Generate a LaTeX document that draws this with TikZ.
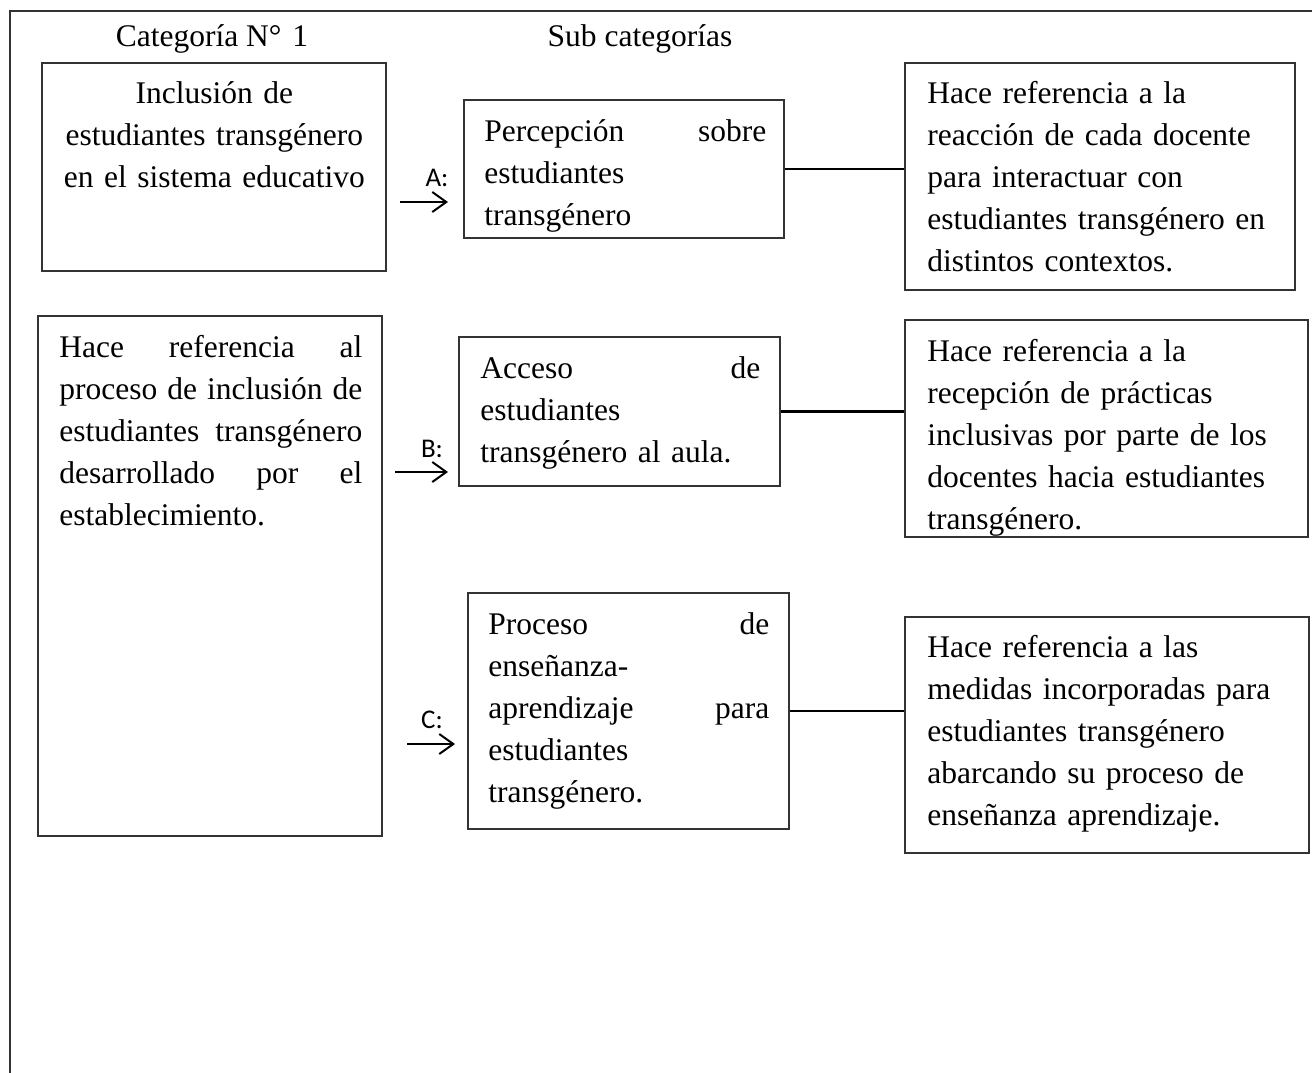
\documentclass[tikz,border=0pt]{standalone}
\usepackage{fontspec}
\setmainfont{Liberation Serif}
\newfontfamily\calibri{Carlito}
\usetikzlibrary{arrows.meta,positioning,fit}

\begin{document}
\begin{tikzpicture}[x=0.5pt,y=-0.5pt,
  box/.style={draw=black!80,line width=0.8pt,inner sep=0pt},
  txt/.style={anchor=base west,inner sep=0pt,align=left,font=\fontsize{15.75pt}{21.1pt}\selectfont},
  head/.style={anchor=base,inner sep=0pt,font=\fontsize{15.75pt}{21.1pt}\selectfont},
  lbl/.style={anchor=base,inner sep=0pt,font=\calibri\fontsize{13.5pt}{16pt}\selectfont},
  link/.style={line width=1.2pt},
  arr/.style={line width=1pt,-{Straight Barb[length=7pt,width=10pt]}}]
\useasboundingbox (0,0) rectangle (1312,1072);
\draw[black!80,line width=0.9pt] (10,11) rectangle (1340,1100);
\node[head] (cathead) at (212,46) {Categoría N°\hspace{0.35em}1};
\node[head] (subhead) at (640,46) {Sub categorías};
% category boxes
\node[box,fit={(42,63) (386,271)}] (cat) {};
\node[txt,text width=152pt,align=center] (catt) at (62,103) {Inclusión de\\ estudiantes transgénero\\ en el sistema educativo};
\node[box,fit={(38,316) (382,836)}] (desc) {};
\node[txt,text width=151.5pt] (desct) at (59,357) {Hace\hfill referencia\hfill al\\ proceso\hfill de\hfill inclusión\hfill de\\ estudiantes\hfill transgénero\\ desarrollado\hfill por\hfill el\\ establecimiento.};
% sub categories
\node[box,fit={(464,100) (784,238)}] (subA) {};
\begin{scope}
\clip (subA.north west) rectangle (subA.south east);
\node[txt,text width=141pt] (subAt) at (484,141) {Percepción\hfill sobre\\ estudiantes\\ transgénero};
\end{scope}
\node[box,fit={(459,337) (780,486)}] (subB) {};
\node[txt,text width=140pt] (subBt) at (480,378) {Acceso\hfill de\\ estudiantes\\ transgénero al aula.};
\node[box,fit={(468,593) (789,829)}] (subC) {};
\node[txt,text width=140.5pt] (subCt) at (488,634) {Proceso\hfill de\\ enseñanza-\\ aprendizaje\hfill para\\ estudiantes\\ transgénero.};
% references
\node[box,fit={(905,63) (1295,290)}] (refA) {};
\node[txt,text width=180pt] (refAt) at (927,103) {Hace referencia a la\\ reacción de cada docente\\ para interactuar con\\ estudiantes transgénero en\\ distintos contextos.};
\node[box,fit={(905,320) (1308,537)}] (refB) {};
\begin{scope}
\clip (refB.north west) rectangle (refB.south east);
\node[txt,text width=185pt] (refBt) at (927,361) {Hace referencia a la\\ recepción de prácticas\\ inclusivas por parte de los\\ docentes hacia estudiantes\\ transgénero.};
\end{scope}
\node[box,fit={(905,617) (1309,853)}] (refC) {};
\node[txt,text width=185pt] (refCt) at (927,657) {Hace referencia a las\\ medidas incorporadas para\\ estudiantes transgénero\\ abarcando su proceso de\\ enseñanza aprendizaje.};
% arrows
\coordinate (inA) at (400,202);
\coordinate (outA) at (448,202);
\coordinate (inB) at (395,472);
\coordinate (outB) at (448,472);
\coordinate (inC) at (407,744);
\coordinate (outC) at (455,744);
\node[lbl] (lblA) at (437,186) {A:};
\node[lbl] (lblB) at (432,457) {B:};
\node[lbl] (lblC) at (432,728) {C:};
\draw[arr] (inA) -- (outA);
\draw[arr] (inB) -- (outB);
\draw[arr] (inC) -- (outC);
\draw[link] (subA.east) -- (subA.east -| refA.west);
\draw[link] (subB.east) -- (subB.east -| refB.west);
\draw[link] (subC.east) -- (subC.east -| refC.west);
\end{tikzpicture}
\end{document}
